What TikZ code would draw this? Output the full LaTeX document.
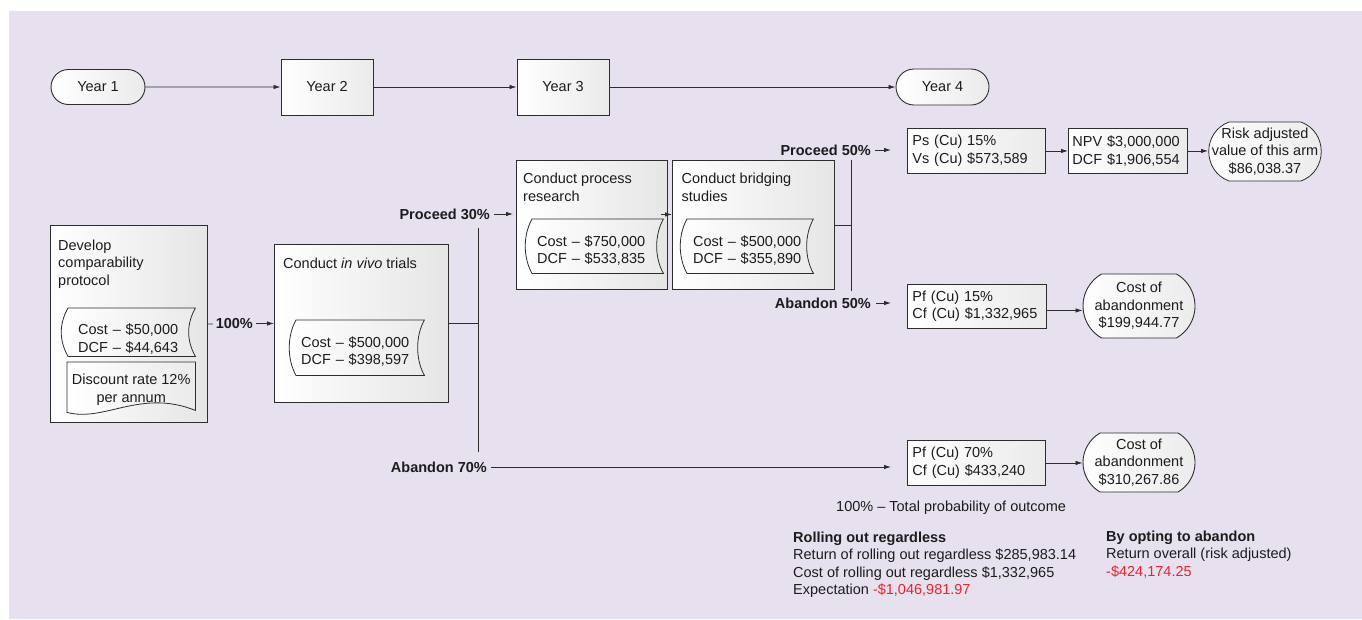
\documentclass[tikz,border=0pt]{standalone}
\usepackage{fontspec}
\setmainfont{Liberation Sans}
\usetikzlibrary{arrows.meta,shapes.misc}
\definecolor{bgc}{RGB}{231,225,239}
\definecolor{linec}{RGB}{45,45,45}
\definecolor{txtc}{RGB}{28,28,28}
\definecolor{redc}{RGB}{232,36,44}
\pgfdeclarelayer{back}
\pgfdeclarelayer{mid}
\pgfsetlayers{back,mid,main}

% outline of a "stored data" flowchart symbol around a node
\newcommand{\storedshape}[1]{%
  \path[dataline] (#1.north west) .. controls +(-9,16) and +(-9,-16) .. (#1.south west)
    -- (#1.south east) .. controls +(-9,-16) and +(-9,16) .. (#1.north east) -- cycle;}
% invisible strut that pushes the first line of a node down
\newcommand{\topstrut}[1]{\rule{0pt}{#1}}

\tikzset{
  panel/.style={draw=linec, line width=0.9pt, left color=white, right color=black!10,
    inner sep=0pt, anchor=north west},
  yearbox/.style={draw=linec, line width=0.9pt, left color=white, right color=black!8,
    inner sep=0pt, minimum width=92pt, minimum height=56pt},
  stad/.style={rounded rectangle, draw=linec, line width=0.9pt, left color=white,
    right color=black!8, inner sep=0pt, align=center},
  tbox/.style={panel, right color=black!8, align=left, inner ysep=0pt, inner xsep=5pt},
  title/.style={inner sep=0pt, anchor=north west, align=left},
  dtext/.style={inner ysep=0pt, anchor=north west, align=left},
  dataline/.style={draw=linec, line width=0.8pt, left color=white, right color=black!8},
  lab/.style={inner sep=0pt, font=\fontsize{14.5}{17.5}\selectfont\bfseries},
  ln/.style={draw=linec, line width=0.8pt},
  arr/.style={ln, -{Latex[length=7pt,width=4.5pt]}},
  txt/.style={inner sep=0pt, anchor=north west, align=left},
}

\begin{document}
\begin{tikzpicture}[x=1pt, y=-1pt, font=\fontsize{14.5}{17.5}\selectfont, text=txtc]
\useasboundingbox (0,0) rectangle (1362,619);

\begin{pgfonlayer}{back}
  \fill[bgc] (9,11) rectangle (1362,619);
  \node[panel, minimum width=157pt, minimum height=197pt] (dev)  at (50,225)  {};
  \node[panel, minimum width=174pt, minimum height=158pt] (vivo) at (274,244) {};
  \node[panel, minimum width=151pt, minimum height=129pt] (proc) at (516,160) {};
  \node[panel, minimum width=162pt, minimum height=129pt] (brid) at (672,160) {};
\end{pgfonlayer}

% time line
\node[stad, rounded rectangle arc length=180, minimum width=94pt, minimum height=35pt] (y1) at (98,87) {Year 1};
\node[yearbox] (y2) at (327,87) {Year 2};
\node[yearbox] (y3) at (563,87) {Year 3};
\node[stad, rounded rectangle arc length=180, minimum width=93pt, minimum height=36pt] (y4) at (942.5,87) {Year 4};
\draw[arr] (y1) -- (y2);
\draw[arr] (y2) -- (y3);
\draw[arr] (y3) -- (y4);

% stage titles
\node[title] (devt)  at (58,239.5)  {Develop\\comparability\\protocol};
\node[title] (vivot) at (283,258)   {Conduct \textit{in vivo} trials};
\node[title] (proct) at (523,172.8) {Conduct process\\research};
\node[title] (bridt) at (681.5,172.8) {Conduct bridging\\studies};

% cost figures
\node[dtext, text width=107pt, inner xsep=10pt, minimum height=48pt] (devd) at (68,308)
  {\topstrut{24pt}Cost \textendash{} \$50,000\\DCF \textendash{} \$44,643};
\node[dtext, text width=118pt, inner xsep=5pt, minimum height=55pt] (vivod) at (296,320)
  {\topstrut{18pt}Cost \textendash{} \$500,000\\DCF \textendash{} \$398,597};
\node[dtext, text width=121pt, inner xsep=5pt, minimum height=54pt] (procd) at (532,219)
  {\topstrut{19pt}Cost \textendash{} \$750,000\\DCF \textendash{} \$533,835};
\node[dtext, text width=114pt, inner xsep=6pt, minimum height=54pt] (bridd) at (687,219)
  {\topstrut{19pt}Cost \textendash{} \$500,000\\DCF \textendash{} \$355,890};
\node[inner sep=0pt, anchor=north west, align=center, minimum width=128pt, minimum height=48pt] (disc) at (67,362)
  {\topstrut{18pt}Discount rate 12\%\\per annum};

\begin{pgfonlayer}{mid}
  \storedshape{devd}
  \storedshape{vivod}
  \storedshape{procd}
  \storedshape{bridd}
  \path[dataline] (disc.north west) -- ([yshift=-2pt]disc.south west)
    .. controls +(38,10) and +(-55,-22) .. (disc.south east) -- (disc.north east) -- cycle;
\end{pgfonlayer}

% first stage to in vivo trials
\draw[arr] (dev.east) -- node[lab, fill=bgc, inner xsep=3pt, pos=0.40] {100\%} (vivo.west);

% branch after in vivo trials
\coordinate (b1top) at (478,228);
\coordinate (b1bot) at (478,452);
\draw[ln] (vivo.east) -- (vivo.east -| b1top);
\draw[ln] (b1top) -- (b1bot);
\node[lab, anchor=east] (p30) at (490,214) {Proceed 30\%};
\node[lab, anchor=east] (a70) at (487,467) {Abandon 70\%};
\draw[arr, shorten >=3pt] ([xshift=4pt]p30.east) -- (p30.east -| proc.west);
\draw[arr] ([xshift=-7pt,yshift=10.5pt]proc.east) -- ([yshift=10.5pt]brid.west);

% branch after bridging studies
\coordinate (b2top) at (851,160);
\coordinate (b2bot) at (851,291);
\draw[ln] (brid.east) -- (brid.east -| b2top);
\draw[ln] (b2top) -- (b2bot);
\node[lab, anchor=east] (p50) at (871,150) {Proceed 50\%};
\node[lab, anchor=east] (a50) at (871,303) {Abandon 50\%};

% outcomes
\node[tbox, text width=128pt, minimum height=45pt] (ps)  at (907,128)  {Ps (Cu) 15\%\\Vs (Cu) \$573,589};
\node[tbox, inner xsep=4pt, text width=111pt, minimum height=45pt] (npv) at (1068,128) {NPV \$3,000,000\\DCF \$1,906,554};
% risk-adjusted value: text set first, its capsule outline drawn behind it
\node[inner sep=0pt, align=center] (risk) at (1265,151.5)
  {Risk adjusted\\value of this arm\\\$86,038.37};
\begin{pgfonlayer}{mid}
  \path[dataline] ([xshift=-36pt,yshift=29.5pt]risk.center) -- ([xshift=36pt,yshift=29.5pt]risk.center)
    .. controls +(27,10) and +(27,-10) .. ([xshift=36pt,yshift=-29.5pt]risk.center)
    -- ([xshift=-36pt,yshift=-29.5pt]risk.center)
    .. controls +(-27,-10) and +(-27,10) .. ([xshift=-36pt,yshift=29.5pt]risk.center) -- cycle;
\end{pgfonlayer}
\coordinate (riskin) at ([xshift=-57pt]risk.center);
\node[tbox, text width=129pt, minimum height=44pt] (pf1) at (907,284) {Pf (Cu) 15\%\\Cf (Cu) \$1,332,965};
\node[stad, rounded rectangle arc length=120, minimum width=112pt, minimum height=64pt] (cost1) at (1139,306)
  {Cost of\\abandonment\\\$199,944.77};
\node[tbox, text width=128pt, minimum height=45pt] (pf2) at (907,440) {Pf (Cu) 70\%\\Cf (Cu) \$433,240};
\node[stad, rounded rectangle arc length=120, minimum width=112pt, minimum height=59pt] (cost2) at (1139,462.5)
  {Cost of\\abandonment\\\$310,267.86};

\coordinate (pf1out) at ([yshift=-4pt]pf1.east);
\draw[arr, shorten >=16pt] ([xshift=4pt]p50.east) -- (p50.east -| ps.west);
\draw[arr, shorten >=16pt] ([xshift=5pt]a50.east) -- (a50.east -| pf1.west);
\draw[arr, shorten >=16pt] ([xshift=4pt]a70.east) -- (a70.east -| pf2.west);
\draw[arr] (ps.east) -- (npv.west);
\draw[arr] (npv.east) -- (npv.east -| riskin);
\draw[arr] (pf1out) -- (pf1out -| cost1.west);
\draw[arr] (pf2.east) -- (pf2.east -| cost2.west);

% notes
\node[txt] (total) at (836,500.6) {100\% \textendash{} Total probability of outcome};
\node[txt] (rollout) at (793,531.6) {\textbf{Rolling out regardless}\\
  Return of rolling out regardless \$285,983.14\\
  Cost of rolling out regardless \$1,332,965\\
  Expectation \textcolor{redc}{-\$1,046,981.97}};
\node[txt] (optout) at (1106,530.6) {\textbf{By opting to abandon}\\
  Return overall (risk adjusted)\\
  \textcolor{redc}{-\$424,174.25}};
\end{tikzpicture}
\end{document}
